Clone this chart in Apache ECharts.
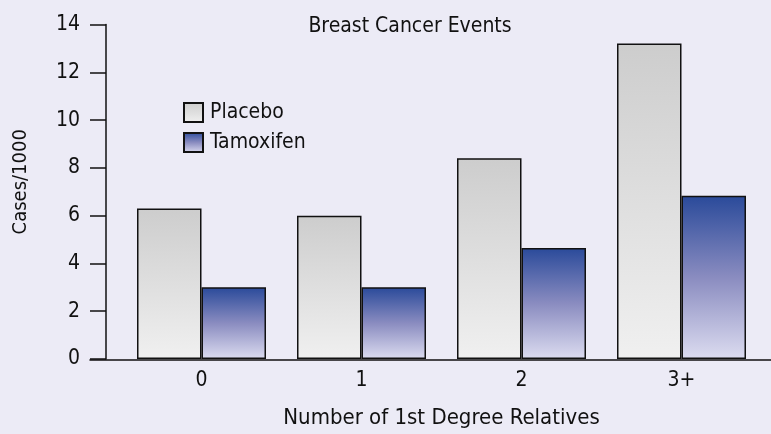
<!DOCTYPE html>
<html>
<head>
<meta charset="utf-8">
<script src="https://cdn.jsdelivr.net/npm/echarts@6/dist/echarts.min.js"></script>
<style>
html,body{margin:0;padding:0;background:#ECEBF6;}
#chart{width:771px;height:434px;}
</style>
</head>
<body>
<div id="chart"></div>
<script>
var categories = ['0', '1', '2', '3+'];
var placebo = [6.3, 6.0, 8.4, 13.2];
var tamoxifen = [3.0, 3.0, 4.65, 6.83];
var yTicks = { min: 0, max: 14, interval: 2 };
var titleText = 'Breast Cancer Events';
var yName = 'Cases/1000';
var xName = 'Number of 1st Degree Relatives';

var FONT = '"DejaVu Sans Condensed", "Liberation Sans Narrow", "Roboto", sans-serif';
var TXT = '#111111';

var chart = echarts.init(document.getElementById('chart'), null, { renderer: 'canvas' });
chart.setOption({
  backgroundColor: '#ECEBF6',
  animation: false,
  textStyle: { fontFamily: FONT, color: TXT },
  title: {
    text: titleText,
    left: 405, textAlign: 'center', top: 11,
    textStyle: { fontFamily: FONT, fontSize: 21, fontWeight: 'normal', color: TXT }
  },
  legend: {
    orient: 'vertical',
    left: 178, top: 97,
    itemWidth: 19, itemHeight: 19, itemGap: 9,
    icon: 'rect',
    textStyle: { fontFamily: FONT, fontSize: 21, color: TXT, lineHeight: 19, padding: [0, 0, 0, 2] },
    data: ['Placebo', 'Tamoxifen']
  },
  grid: [
    { left: 121.5, right: 9.5, top: 24.5, bottom: 74, containLabel: false },
    { left: 90, right: 0, top: 24.5, bottom: 74, containLabel: false }
  ],
  xAxis: [
    {
      type: 'category', gridIndex: 0, data: categories,
      axisLine: { show: false },
      axisTick: { show: false },
      axisLabel: { fontFamily: FONT, fontSize: 21, color: TXT, margin: 11 },
      name: xName, nameLocation: 'middle', nameGap: 48,
      nameTextStyle: { fontFamily: FONT, fontSize: 22, color: TXT }
    },
    {
      type: 'value', gridIndex: 1, min: 0, max: 1,
      axisLine: { show: true, lineStyle: { color: '#111', width: 1.5 } },
      axisTick: { show: false }, axisLabel: { show: false }, splitLine: { show: false }
    }
  ],
  yAxis: [
    {
      type: 'value', gridIndex: 0,
      min: yTicks.min, max: yTicks.max, interval: yTicks.interval,
      offset: 15.5,
      axisLine: { show: true, lineStyle: { color: '#111', width: 1.5 } },
      axisTick: { show: true, inside: false, length: 16, lineStyle: { color: '#111', width: 1.5 } },
      axisLabel: { fontFamily: FONT, fontSize: 21, color: TXT, margin: 26 },
      splitLine: { show: false },
      name: yName, nameLocation: 'middle', nameGap: 75, nameRotate: 90,
      nameTextStyle: { fontFamily: FONT, fontSize: 20, color: TXT, padding: [0, 0, 0, 20] }
    },
    { type: 'value', gridIndex: 1, show: false, min: 0, max: 1 }
  ],
  series: [
    {
      name: 'Placebo', type: 'bar', xAxisIndex: 0, yAxisIndex: 0,
      data: placebo, barWidth: 64.5, barGap: '0%',
      itemStyle: {
        color: new echarts.graphic.LinearGradient(0, 0, 0, 1, [
          { offset: 0, color: '#CDCDCD' }, { offset: 1, color: '#F0F0F0' }
        ]),
        borderColor: '#111', borderWidth: 1.5
      }
    },
    {
      name: 'Tamoxifen', type: 'bar', xAxisIndex: 0, yAxisIndex: 0,
      data: tamoxifen, barWidth: 64.5, barGap: '0%',
      itemStyle: {
        color: new echarts.graphic.LinearGradient(0, 0, 0, 1, [
          { offset: 0, color: '#2A4A9A' }, { offset: 0.5, color: '#8A8CC0' }, { offset: 1, color: '#DCDCF0' }
        ]),
        borderColor: '#111', borderWidth: 1.5
      }
    }
  ]
});
</script>
</body>
</html>
